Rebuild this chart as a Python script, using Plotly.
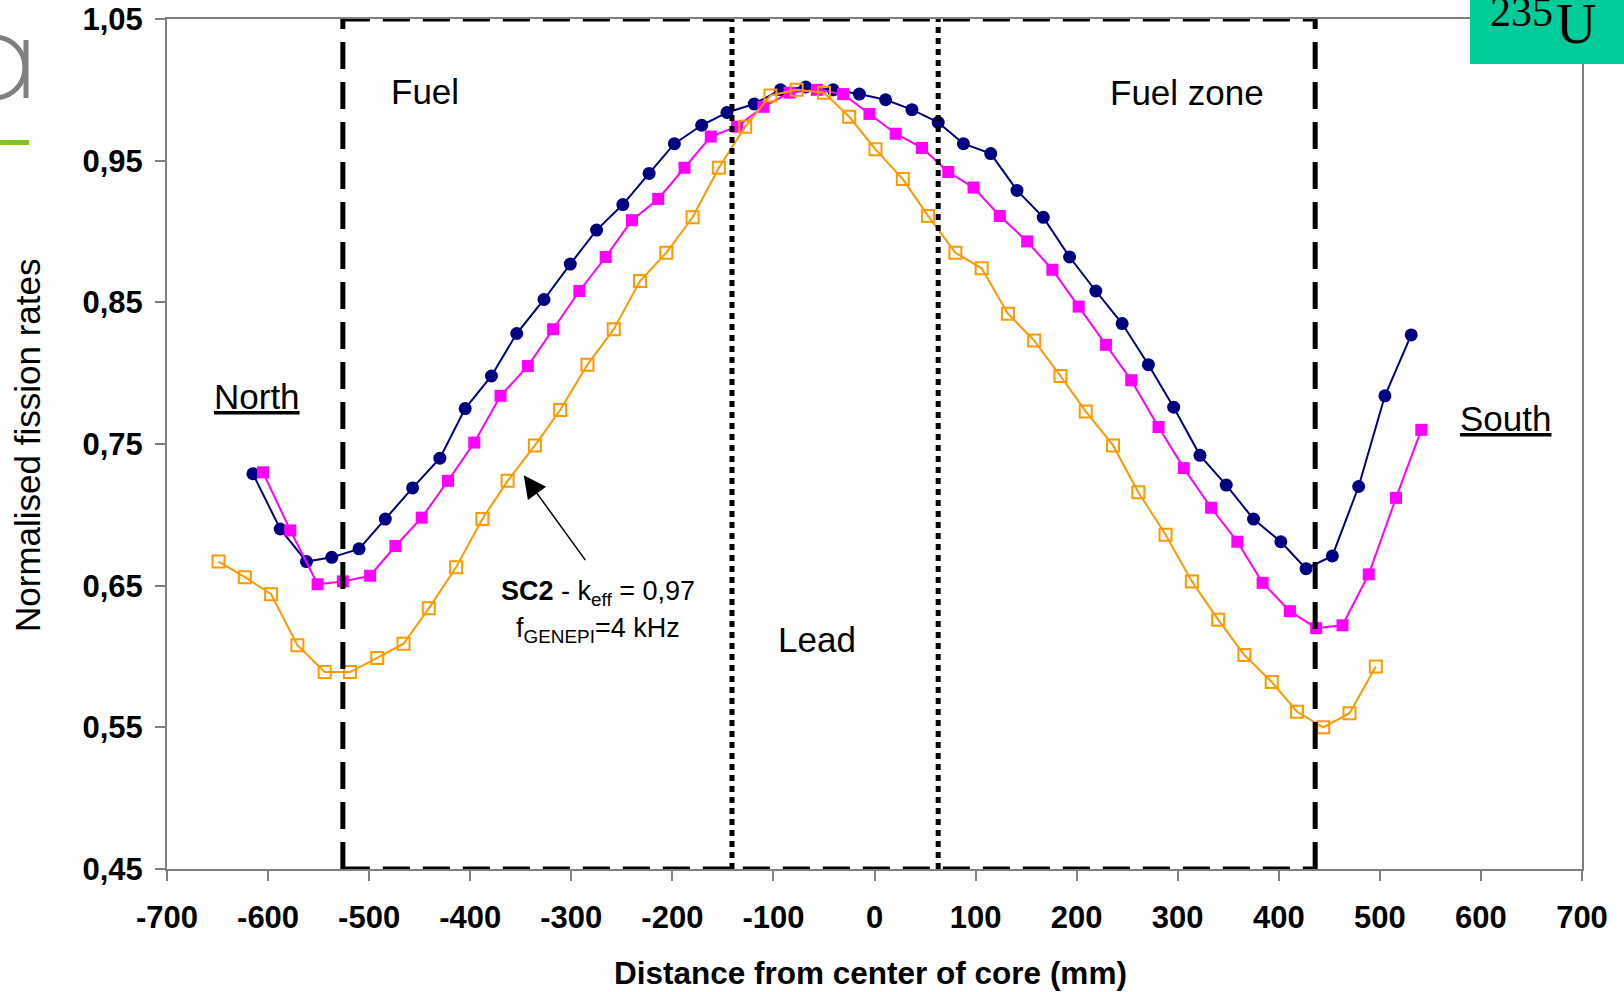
import plotly.graph_objects as go

# ---------------- data ----------------
pos_blue = [-615, -588, -562, -537, -510, -484, -457, -430, -405, -379, -354, -327, -301, -275, -249,
            -223, -198, -171, -146, -119, -93, -68, -41, -15, 11, 37, 63, 88, 115, 141,
            167, 193, 219, 245, 271, 296, 322, 348, 375, 402, 427, 453, 479, 505, 531]
rate_blue = [0.729, 0.690, 0.667, 0.670, 0.676, 0.697, 0.719, 0.740, 0.775, 0.798, 0.828, 0.852, 0.877, 0.901, 0.919,
             0.941, 0.962, 0.975, 0.984, 0.990, 1.000, 1.002, 1.000, 0.997, 0.993, 0.986, 0.977, 0.962, 0.955, 0.929,
             0.910, 0.882, 0.858, 0.835, 0.806, 0.776, 0.742, 0.721, 0.697, 0.681, 0.662, 0.671, 0.720, 0.784, 0.827]

pos_pink = [-605, -578, -551, -526, -499, -474, -448, -422, -396, -370, -343, -318, -292, -266, -240,
            -214, -188, -162, -136, -110, -84, -57, -31, -5, 21, 47, 73, 98, 124, 151,
            176, 202, 229, 254, 281, 306, 333, 359, 384, 411, 437, 463, 489, 516, 541]
rate_pink = [0.730, 0.689, 0.651, 0.653, 0.657, 0.678, 0.698, 0.724, 0.751, 0.784, 0.805, 0.831, 0.858, 0.882, 0.908,
             0.923, 0.945, 0.967, 0.974, 0.988, 0.998, 1.000, 0.997, 0.983, 0.969, 0.959, 0.942, 0.931, 0.911, 0.893,
             0.873, 0.847, 0.820, 0.795, 0.762, 0.733, 0.705, 0.681, 0.652, 0.632, 0.620, 0.622, 0.658, 0.712, 0.760]

pos_orange = [-649, -623, -597, -571, -544, -519, -492, -466, -441, -414, -388, -363, -336, -311, -284,
              -258, -232, -206, -180, -154, -128, -103, -77, -50, -25, 1, 28, 53, 80, 106,
              132, 158, 184, 209, 236, 261, 288, 314, 340, 366, 393, 418, 444, 470, 496]
rate_orange = [0.667, 0.656, 0.644, 0.608, 0.589, 0.589, 0.599, 0.609, 0.634, 0.663, 0.697, 0.724, 0.749, 0.774, 0.806,
               0.831, 0.865, 0.885, 0.910, 0.945, 0.974, 0.996, 1.000, 0.998, 0.981, 0.958, 0.937, 0.911, 0.885, 0.874,
               0.842, 0.823, 0.798, 0.773, 0.749, 0.716, 0.686, 0.653, 0.626, 0.601, 0.582, 0.561, 0.550, 0.560, 0.593]

x_ticks = [-700, -600, -500, -400, -300, -200, -100, 0, 100, 200, 300, 400, 500, 600, 700]
x_tick_labels = ["-700", "-600", "-500", "-400", "-300", "-200", "-100", "0",
                 "100", "200", "300", "400", "500", "600", "700"]
y_ticks = [0.45, 0.55, 0.65, 0.75, 0.85, 0.95, 1.05]
y_tick_labels = ["0,45", "0,55", "0,65", "0,75", "0,85", "0,95", "1,05"]

x_range = [-700, 700]
y_range = [0.45, 1.05]
fuel_bounds = [-526, 436]     # dashed fuel zone boundaries (mm)
lead_bounds = [-141, 63]      # dotted lead zone boundaries (mm)

arrow_head = (-347, 0.728)
arrow_tail = (-285, 0.667)

# ---------------- figure ----------------
FONT = "Liberation Sans, Arial, sans-serif"
SERIF = "Liberation Serif, Times New Roman, serif"
W, H = 1624, 992
ML, MR, MT, MB = 167, 42, 19, 123
PW, PH = W - ML - MR, H - MT - MB


def px2paper(px, py):
    return (px - ML) / PW, 1 - (py - MT) / PH


fig = go.Figure()
fig.add_trace(go.Scatter(
    x=pos_blue, y=rate_blue, mode="lines+markers",
    line=dict(color="#000080", width=2),
    marker=dict(symbol="circle", size=13, color="#000080"),
    showlegend=False, hoverinfo="skip"))
fig.add_trace(go.Scatter(
    x=pos_pink, y=rate_pink, mode="lines+markers",
    line=dict(color="#FF00FF", width=2),
    marker=dict(symbol="square", size=12, color="#FF00FF"),
    showlegend=False, hoverinfo="skip"))
fig.add_trace(go.Scatter(
    x=pos_orange, y=rate_orange, mode="lines+markers",
    line=dict(color="#FF9900", width=2),
    marker=dict(symbol="square-open", size=12, color="#FF9900",
                line=dict(width=2, color="#FF9900")),
    showlegend=False, hoverinfo="skip"))

shapes = []
dash_style = dict(color="black", width=5, dash="27px,13px")
dot_style = dict(color="black", width=5, dash="6px,5px")
for xb in fuel_bounds:
    shapes.append(dict(type="line", xref="x", yref="y", x0=xb, x1=xb,
                       y0=y_range[0], y1=y_range[1], line=dash_style, layer="above"))
for yb in y_range:
    shapes.append(dict(type="line", xref="x", yref="y", x0=fuel_bounds[0], x1=fuel_bounds[1],
                       y0=yb, y1=yb, line=dash_style, layer="above"))
for xb in lead_bounds:
    shapes.append(dict(type="line", xref="x", yref="y", x0=xb, x1=xb,
                       y0=y_range[0], y1=y_range[1], line=dot_style, layer="above"))

# 235U label box (top right)
bx0, by0 = px2paper(1470, 64)
bx1, by1 = px2paper(1640, -10)
shapes.append(dict(type="rect", xref="paper", yref="paper", x0=bx0, x1=bx1, y0=by0, y1=by1,
                   fillcolor="#00CC99", line=dict(width=0), layer="above"))

# logo fragment (top left)
lx0, ly0 = px2paper(-36, 98)
lx1, ly1 = px2paper(25, 37)
shapes.append(dict(type="circle", xref="paper", yref="paper", x0=lx0, x1=lx1, y0=ly0, y1=ly1,
                   line=dict(color="#7F7F7F", width=5)))
sx, sy0 = px2paper(26, 98)
_, sy1 = px2paper(26, 40)
shapes.append(dict(type="line", xref="paper", yref="paper", x0=sx, x1=sx, y0=sy0, y1=sy1,
                   line=dict(color="#7F7F7F", width=5)))
gx0, gy0 = px2paper(0, 145)
gx1, gy1 = px2paper(29, 140)
shapes.append(dict(type="rect", xref="paper", yref="paper", x0=gx0, x1=gx1, y0=gy0, y1=gy1,
                   fillcolor="#84C225", line=dict(width=0)))

annotations = []


def txt(text, x, y, size, xref="x", yref="y", bold=False, family=FONT, **kw):
    annotations.append(dict(text=text, x=x, y=y, xref=xref, yref=yref, showarrow=False,
                            font=dict(family=family, size=size, color="black",
                                      weight="bold" if bold else "normal"),
                            xanchor=kw.pop("xanchor", "center"), yanchor=kw.pop("yanchor", "middle"), **kw))


txt("Fuel", -445, 0.999, 35)
txt("Fuel zone", 309, 0.998, 35)
txt("Lead", -57, 0.612, 35)
txt("<u>North</u>", -611, 0.7835, 35)
txt("<u>South</u>", 624, 0.768, 35)
txt("<b>SC2</b> - k<sub>eff</sub> = 0,97", -274, 0.6445, 27)
txt("f<sub>GENEPI</sub>=4 kHz", -274, 0.6185, 27)

# axis titles
ax_, ay_ = px2paper(27, 446)
txt("Normalised fission rates", ax_, ay_, 35, xref="paper", yref="paper", textangle=-90)
tx_, ty_ = px2paper(870, 973)
txt("Distance from center of core (mm)", tx_, ty_, 31.5, xref="paper", yref="paper", bold=True)

# 235U
ux, uy = px2paper(1576, 24)
txt("U", ux, uy, 56, xref="paper", yref="paper", family=SERIF)
nx, ny = px2paper(1521, 12)
txt("235", nx, ny, 42, xref="paper", yref="paper", family=SERIF)

# arrow
annotations.append(dict(x=arrow_head[0], y=arrow_head[1], ax=arrow_tail[0], ay=arrow_tail[1],
                        xref="x", yref="y", axref="x", ayref="y", text="", showarrow=True,
                        arrowhead=2, arrowsize=3, arrowwidth=1.5, arrowcolor="black"))

axis_common = dict(
    showgrid=False, zeroline=False, showline=True, linecolor="#808080", linewidth=2,
    mirror=True, ticks="outside", ticklen=10, tickwidth=2, tickcolor="#808080",
    tickfont=dict(family=FONT, size=31, color="black", weight="bold"),
    automargin=False,
)

fig.update_layout(
    width=W, height=H,
    margin=dict(l=ML, r=MR, t=MT, b=MB, autoexpand=False),
    paper_bgcolor="white", plot_bgcolor="white",
    xaxis=dict(range=x_range, tickvals=x_ticks, ticktext=x_tick_labels,
               ticklabelstandoff=10, **axis_common),
    yaxis=dict(range=y_range, tickvals=y_ticks, ticktext=y_tick_labels,
               ticklabelstandoff=6, **axis_common),
    shapes=shapes,
    annotations=annotations,
    showlegend=False,
)

fig.write_html("out.html")
